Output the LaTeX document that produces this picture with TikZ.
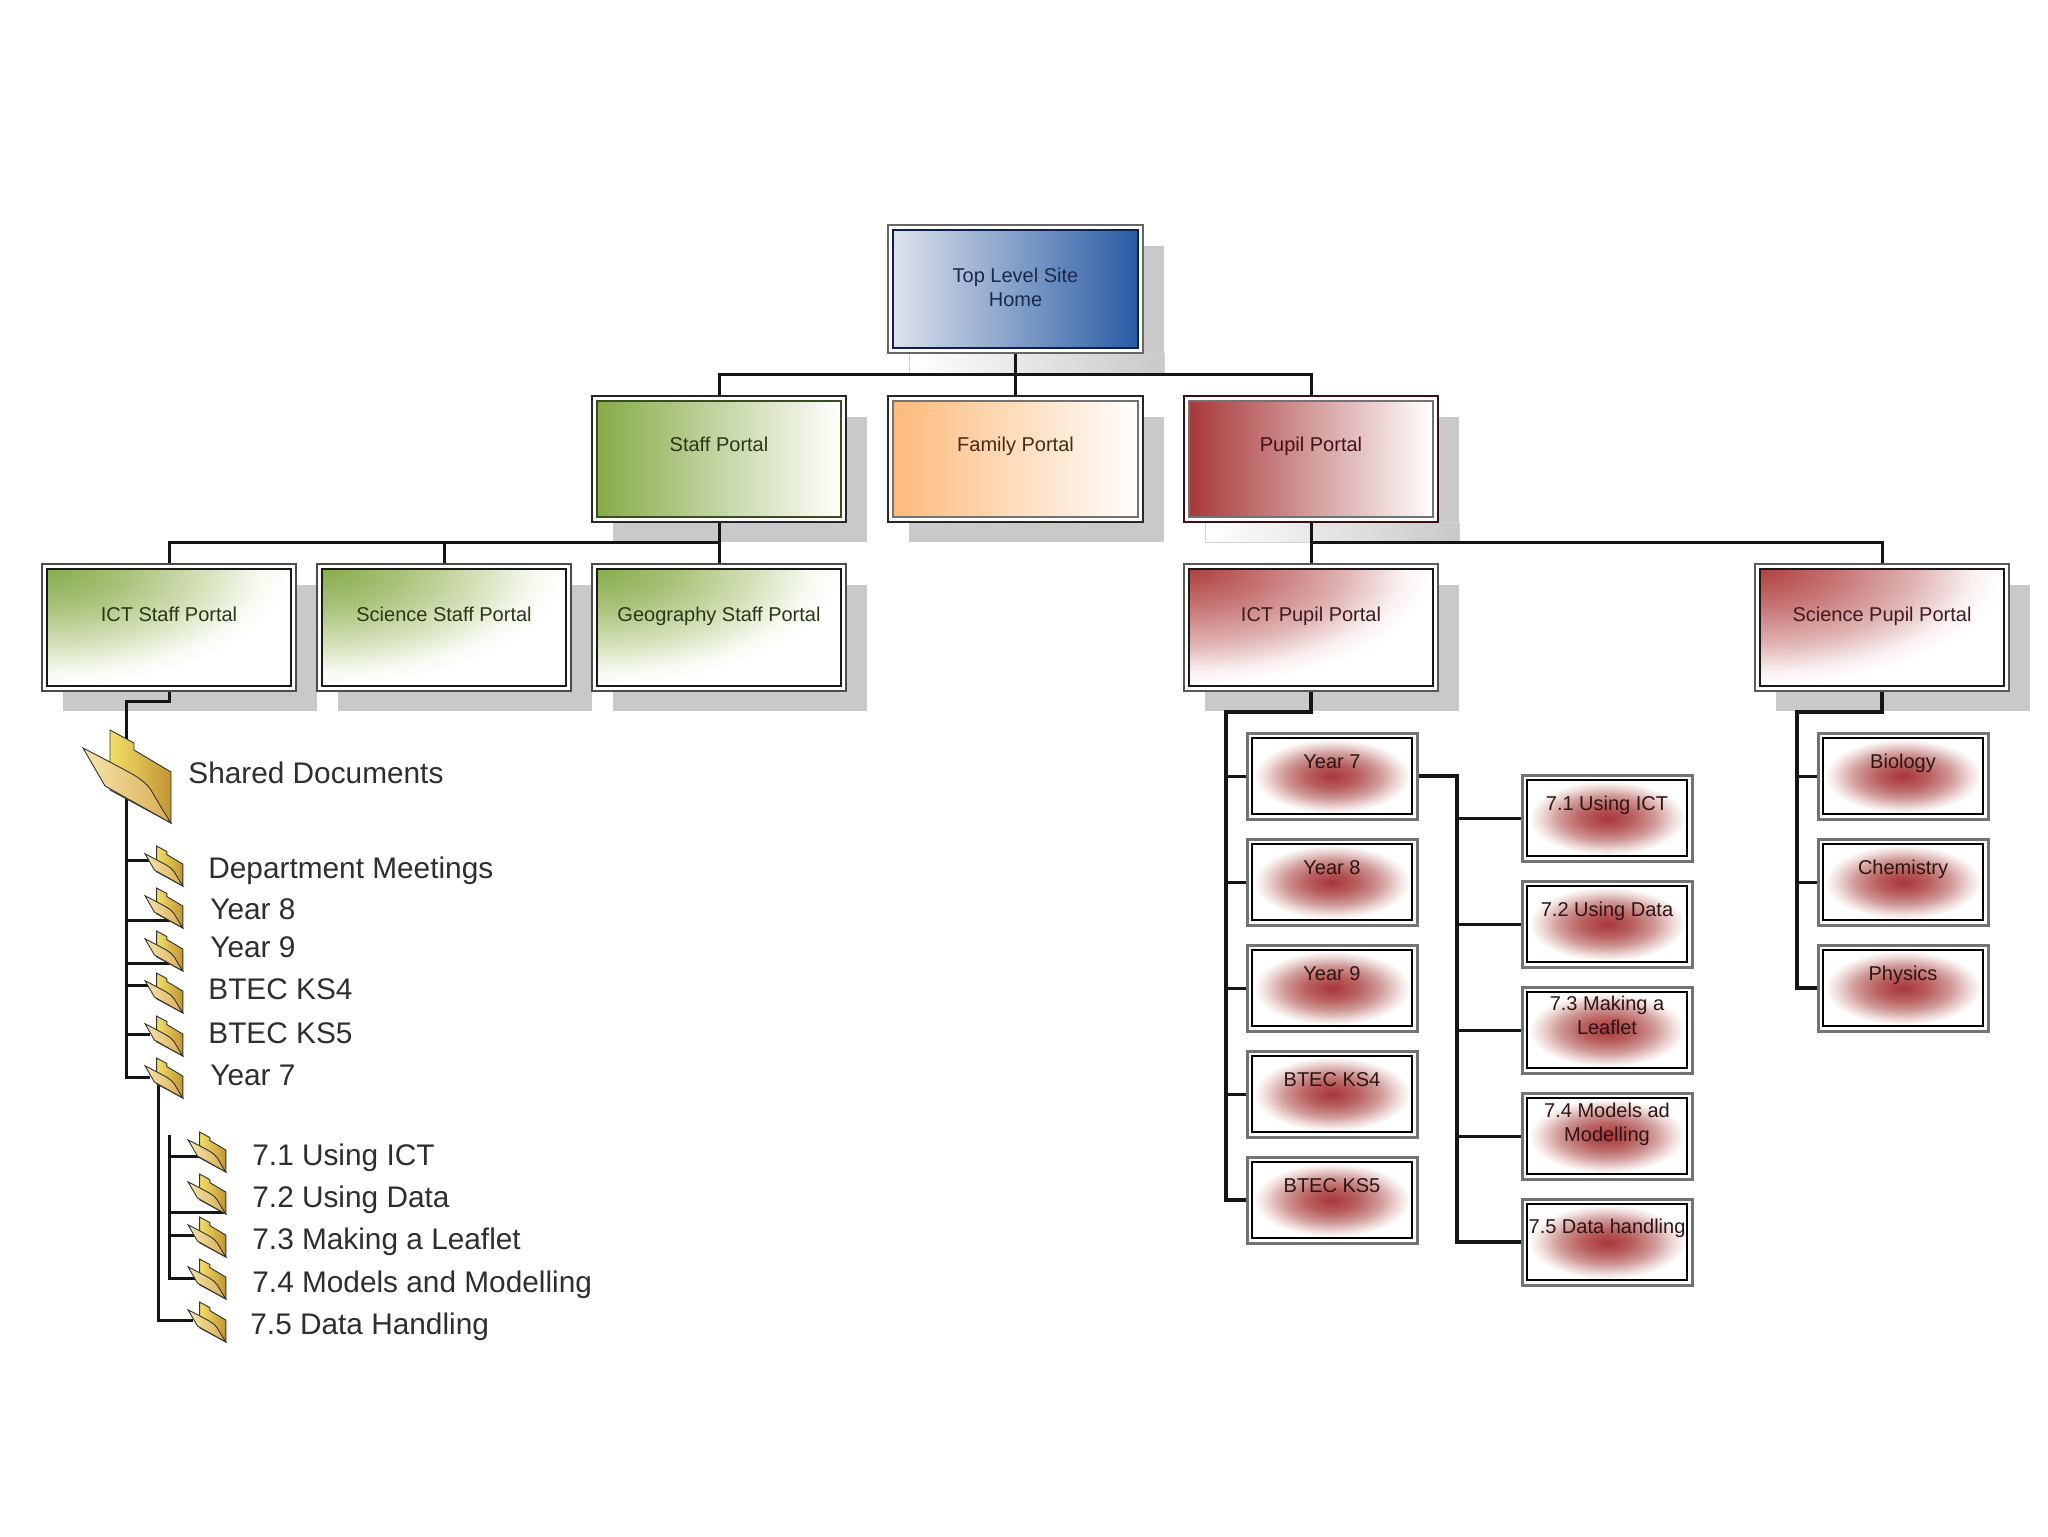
\documentclass[tikz,border=0pt]{standalone}
\usepackage{fontspec}
\setmainfont{Liberation Sans}
\usetikzlibrary{calc}
\pgfdeclarelayer{back}
\pgfdeclarelayer{mid}
\pgfsetlayers{back,mid,main}
\definecolor{shadowgray}{HTML}{C9C9C9}
\definecolor{linecol}{HTML}{151515}
\definecolor{cga}{HTML}{88AB4D}\definecolor{cgb}{HTML}{A8C278}\definecolor{cgc}{HTML}{D4E0B8}\definecolor{cgd}{HTML}{F7FAF2}
\definecolor{cra}{HTML}{AE4040}\definecolor{crb}{HTML}{C77575}\definecolor{crc}{HTML}{E0B3B3}\definecolor{crd}{HTML}{FAF2F2}
\definecolor{gla}{HTML}{A8363C}\definecolor{glb}{HTML}{B9605F}\definecolor{glc}{HTML}{CF9A98}\definecolor{gld}{HTML}{F0DEDD}
\definecolor{blueL}{HTML}{DDE2EC}\definecolor{blueR}{HTML}{295CA6}
\definecolor{greenL}{HTML}{87AB47}\definecolor{orangeL}{HTML}{FDBA7A}\definecolor{maroonL}{HTML}{A83838}
\definecolor{tb}{HTML}{1A2A4D}\definecolor{tg}{HTML}{293814}\definecolor{to}{HTML}{472B14}\definecolor{tm}{HTML}{470F1A}\definecolor{tr}{HTML}{401A1F}\definecolor{tw}{HTML}{2E1414}
\definecolor{fa}{HTML}{F2E066}\definecolor{fb}{HTML}{C29433}\definecolor{fc}{HTML}{F5E6AD}\definecolor{fd}{HTML}{D9AD52}
\definecolor{innerblue}{HTML}{0E2050}\definecolor{innergreen}{HTML}{3A4D1E}\definecolor{outermaroon}{HTML}{3A0F0F}
\pgfdeclareradialshading{cornergreen}{\pgfpoint{0bp}{0bp}}{color(0bp)=(cga); color(8bp)=(cgb); color(16bp)=(cgc); color(22bp)=(cgd); color(25bp)=(white); color(50bp)=(white)}
\pgfdeclareradialshading{cornerred}{\pgfpoint{0bp}{0bp}}{color(0bp)=(cra); color(8bp)=(crb); color(16bp)=(crc); color(22bp)=(crd); color(25bp)=(white); color(50bp)=(white)}
\pgfdeclareradialshading{glowred}{\pgfpoint{0bp}{0bp}}{color(0bp)=(gla); color(8bp)=(glb); color(15bp)=(glc); color(21bp)=(gld); color(24.5bp)=(white); color(50bp)=(white)}
\tikzset{
  x=0.5pt,y=-0.5pt,
  conn/.style={draw=linecol,line width=1.5pt},
  heavy/.style={draw=linecol,line width=2pt},
  shad/.style={fill=shadowgray,draw=none},
  outerbox/.style={fill=white,inner sep=0pt,outer sep=0pt,rectangle},
  innerbox/.style={inner sep=0pt,outer sep=0pt,rectangle},
  boxlabel/.style={inner sep=0pt,align=center,yshift=-1pt,text height=7.3pt,text depth=2.1pt,font=\fontsize{10}{12}\selectfont},
  listlabel/.style={inner sep=0pt,anchor=base west,font=\fontsize{14.9}{18}\selectfont,text=black!82},
  oblue/.style={draw=black!60,line width=1.3pt},
  ogreen/.style={draw=black!85,line width=1pt},
  oorange/.style={draw=black!85,line width=1pt},
  omaroon/.style={draw=outermaroon,line width=1.1pt},
  ocgreen/.style={draw=black!70,line width=1.4pt},
  ocred/.style={draw=black!65,line width=1.4pt},
  oglow/.style={draw=black!55,line width=1.5pt},
  iblue/.style={draw=innerblue,line width=1.1pt,left color=blueL,right color=blueR},
  igreen/.style={draw=innergreen,line width=1.1pt,left color=greenL,right color=white},
  iorange/.style={draw=black!55,line width=1pt,left color=orangeL,right color=white},
  imaroon/.style={draw=black!55,line width=1pt,left color=maroonL,right color=white},
  icgreen/.style={draw=black!90,line width=.8pt,path picture={\shade[shading=cornergreen] ($(path picture bounding box.north west)!-1!(path picture bounding box.south east)$) rectangle (path picture bounding box.south east);}},
  icred/.style={draw=black!90,line width=.8pt,path picture={\shade[shading=cornerred] ($(path picture bounding box.north west)!-1!(path picture bounding box.south east)$) rectangle (path picture bounding box.south east);}},
  iglow/.style={draw=black,line width=.8pt,shading=glowred},
  tblue/.style={text=tb},
  tgreen/.style={text=tg},
  torange/.style={text=to},
  tmaroon/.style={text=tm},
  tcgreen/.style={text=tg},
  tcred/.style={text=tr},
  tglow/.style={text=tw},
  folder/.pic={
    \draw[draw=black!80,line width=.45pt,left color=fa,right color=fb]
      (27,0) -- (40,7) -- (51,13) -- (51,20) -- (88,42) -- (88,93) -- (27,60) -- cycle;
    \draw[draw=black!80,line width=.45pt,left color=fc,right color=fd]
      (0,18) -- (27,32) .. controls (45,42) and (60,48) .. (68,60) .. controls (75,72) and (82,84) .. (88,93) -- (22,56) -- cycle;
  }
}
% name, x1,y1,x2,y2, kind, text, text-centre y
\newcommand\bx[8]{%
  \node[outerbox,o#6,minimum width={(#4-#2)*0.5pt},minimum height={(#5-#3)*0.5pt}] (#1) at ({(#2+#4)/2},{(#3+#5)/2}) {};
  \node[innerbox,i#6,minimum width={(#4-#2-10)*0.5pt},minimum height={(#5-#3-10)*0.5pt}] (#1-in) at (#1.center) {};
  \node[boxlabel,t#6] (#1-t) at ({(#2+#4)/2},#8) {#7};
}
\newcommand\shadowof[4]{%
  \begin{pgfonlayer}{back}\fill[shad] (#1+21,#2+21) rectangle (#3+21,#4+20);\end{pgfonlayer}%
}
\begin{document}
\begin{tikzpicture}
\useasboundingbox (0,0) rectangle (2048,1536);
\begin{pgfonlayer}{back}
  \fill[white] (0,0) rectangle (2048,1536);
\end{pgfonlayer}
\shadowof{888}{225}{1143}{353}
\shadowof{592}{396}{846}{522}
\shadowof{888}{396}{1143}{522}
\shadowof{1184}{396}{1438}{522}
\shadowof{42}{564}{296}{691}
\shadowof{317}{564}{571}{691}
\shadowof{592}{564}{846}{691}
\shadowof{1184}{564}{1438}{691}
\shadowof{1755}{564}{2009}{691}
\begin{pgfonlayer}{back}
  \draw[draw=black!18,line width=.5pt,left color=white,right color=shadowgray] (909,353) rectangle (1164,373);
  \draw[draw=black!18,line width=.5pt,left color=white,right color=shadowgray] (1205,522) rectangle (1459,542);
\end{pgfonlayer}
\bx{top}{888}{225}{1143}{353}{blue}{Top Level Site\\Home}{299}
\bx{staff}{592}{396}{846}{522}{green}{Staff Portal}{444}
\bx{family}{888}{396}{1143}{522}{orange}{Family Portal}{444}
\bx{pupil}{1184}{396}{1438}{522}{maroon}{Pupil Portal}{444}
\bx{ictstaff}{42}{564}{296}{691}{cgreen}{ICT Staff Portal}{614}
\bx{scistaff}{317}{564}{571}{691}{cgreen}{Science Staff Portal}{614}
\bx{geostaff}{592}{564}{846}{691}{cgreen}{Geography Staff Portal}{614}
\bx{ictpupil}{1184}{564}{1438}{691}{cred}{ICT Pupil Portal}{614}
\bx{scipupil}{1755}{564}{2009}{691}{cred}{Science Pupil Portal}{614}
\bx{y7}{1247}{733}{1417}{819}{glow}{Year 7}{761}
\bx{y8}{1247}{839}{1417}{925}{glow}{Year 8}{867}
\bx{y9}{1247}{945}{1417}{1031}{glow}{Year 9}{973}
\bx{ks4}{1247}{1051}{1417}{1137}{glow}{BTEC KS4}{1079}
\bx{ks5}{1247}{1157}{1417}{1243}{glow}{BTEC KS5}{1185}
\bx{t71}{1522}{775}{1692}{861}{glow}{7.1 Using ICT}{803}
\bx{t72}{1522}{881}{1692}{967}{glow}{7.2 Using Data}{909}
\bx{t73}{1522}{987}{1692}{1073}{glow}{7.3 Making a\\Leaflet}{1027}
\bx{t74}{1522}{1093}{1692}{1179}{glow}{7.4 Models ad\\Modelling}{1134}
\bx{t75}{1522}{1199}{1692}{1285}{glow}{7.5 Data handling}{1226}
\bx{bio}{1818}{733}{1988}{819}{glow}{Biology}{761}
\bx{chem}{1818}{839}{1988}{925}{glow}{Chemistry}{867}
\bx{phys}{1818}{945}{1988}{1031}{glow}{Physics}{973}
\coordinate (bustop) at (1015,374);
\coordinate (busstaff) at (719,542);
\coordinate (buspupil) at (1311,542);
\coordinate (railpupil) at (1226,712);
\coordinate (railyear) at (1457,775);
\coordinate (railsci) at (1797,712);
\coordinate (railshared) at (126,701);
\coordinate (dept-in) at (150,860);
\coordinate (y8-in) at (170,920);
\coordinate (y9-in) at (170,963);
\coordinate (ks4-in) at (150,985);
\coordinate (ks5-in) at (150,1034);
\coordinate (y7-in) at (150,1077);
\coordinate (y7-out) at (158,1085);
\coordinate (u75-in) at (193,1320);
\coordinate (railunits) at (169,1135);
\coordinate (u71-in) at (200,1156);
\coordinate (u72-in) at (225,1212);
\coordinate (u73-in) at (195,1235);
\coordinate (u74-in) at (195,1278);
\begin{pgfonlayer}{mid}
  \draw[conn] (top.south) -- (family.north);
  \draw[conn] (staff.north) |- (bustop) -| (pupil.north);
  \draw[conn] (staff.south) -- (geostaff.north);
  \draw[conn] (ictstaff.north) |- (busstaff);
  \draw[conn] (scistaff.north) -- (scistaff.north |- busstaff);
  \draw[conn] (pupil.south) -- (ictpupil.north);
  \draw[conn] (buspupil) -| (scipupil.north);
  \draw[heavy] (ictpupil.south) |- (railpupil) -- (railpupil |- ks5.west) -- (ks5.west);
  \foreach \n in {y7,y8,y9,ks4} \draw[conn] (railpupil |- \n.west) -- (\n.west);
  \draw[heavy] (y7.east) -| (railyear |- t75.west) -- (t75.west);
  \foreach \n in {t71,t72,t73,t74} \draw[conn] (railyear |- \n.west) -- (\n.west);
  \draw[heavy] (scipupil.south) |- (railsci) -- (railsci |- phys.west) -- (phys.west);
  \foreach \n in {bio,chem} \draw[conn] (railsci |- \n.west) -- (\n.west);
  \draw[conn] (ictstaff.south) |- (railshared) -- (railshared |- y7-in) -- (y7-in);
  \foreach \n in {dept,y8,y9,ks4,ks5} \draw[conn] (railshared |- \n-in) -- (\n-in);
  \draw[conn] (y7-out) |- (u75-in);
  \draw[conn] (railunits) |- (u74-in);
  \foreach \n in {u71,u72,u73} \draw[conn] (railunits |- \n-in) -- (\n-in);
\end{pgfonlayer}
\pic (fshared) at (83,730) {folder};
\foreach \nm/\fy in {fdept/846,fy8/888,fy9/931,fks4/973,fks5/1016,fy7/1058}
  \pic[scale=.43] (\nm) at (145,\fy) {folder};
\foreach \nm/\fy in {fu1/1132,fu2/1174,fu3/1217,fu4/1259,fu5/1302}
  \pic[scale=.43] (\nm) at (188,\fy) {folder};
\node[listlabel] (lshared) at (188,783) {Shared Documents};
\node[listlabel] (ldept) at (208,878) {Department Meetings};
\node[listlabel] (ly8) at (210,919) {Year 8};
\node[listlabel] (ly9) at (210,957) {Year 9};
\node[listlabel] (lks4) at (208,999) {BTEC KS4};
\node[listlabel] (lks5) at (208,1043) {BTEC KS5};
\node[listlabel] (ly7) at (210,1085) {Year 7};
\node[listlabel] (lu1) at (252,1165) {7.1 Using ICT};
\node[listlabel] (lu2) at (252,1207) {7.2 Using Data};
\node[listlabel] (lu3) at (252,1249) {7.3 Making a Leaflet};
\node[listlabel] (lu4) at (252,1292) {7.4 Models and Modelling};
\node[listlabel] (lu5) at (250,1334) {7.5 Data Handling};
\end{tikzpicture}
\end{document}
